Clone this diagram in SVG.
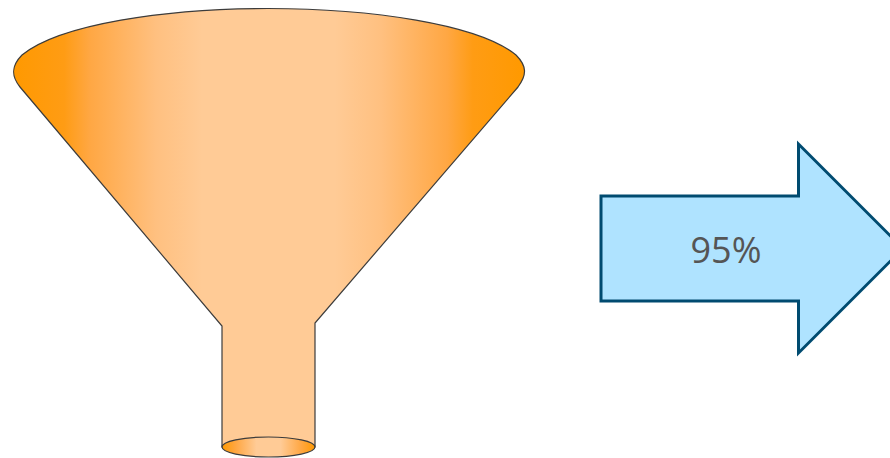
<svg xmlns="http://www.w3.org/2000/svg" width="890" height="458" viewBox="0 0 890 458">
  <defs>
    <linearGradient id="funnelFill" gradientUnits="userSpaceOnUse" x1="13" y1="0" x2="524" y2="0">
      <stop offset="0" stop-color="#ff9900"/>
      <stop offset="0.1" stop-color="#ff9c14"/>
      <stop offset="0.15" stop-color="#ffa743"/>
      <stop offset="0.28" stop-color="#ffc080"/>
      <stop offset="0.37" stop-color="#ffcb96"/>
      <stop offset="0.63" stop-color="#ffcb96"/>
      <stop offset="0.72" stop-color="#ffc080"/>
      <stop offset="0.85" stop-color="#ffa743"/>
      <stop offset="0.9" stop-color="#ff9c14"/>
      <stop offset="1" stop-color="#ff9900"/>
    </linearGradient>
    <linearGradient id="mouthFill" gradientUnits="objectBoundingBox" x1="0" y1="0" x2="1" y2="0">
      <stop offset="0" stop-color="#ff9900"/>
      <stop offset="0.15" stop-color="#ffa743"/>
      <stop offset="0.37" stop-color="#ffcb96"/>
      <stop offset="0.63" stop-color="#ffcb96"/>
      <stop offset="0.85" stop-color="#ffa743"/>
      <stop offset="1" stop-color="#ff9900"/>
    </linearGradient>
    <style>
      .outline { stroke: #3c3c3c; stroke-width: 1.2; }
      .arrow { fill: #afe3ff; stroke: #004b70; stroke-width: 3; }
      .label { font-family: "Open Sans", "Noto Sans", sans-serif; font-size: 36px; fill: #555555; text-anchor: middle; }
    </style>
  </defs>
  <g id="funnel">
    <path class="outline" fill="url(#funnelFill)" d="M222,326 L222,447 L315,447 L315,323 L518,87 C527,75 527,66 516,55 C478,24 370,8.500 268,8.500 C166,8.500 60,24 22,55 C11,66 11,76 20,87 Z"/>
    <ellipse class="outline" fill="url(#mouthFill)" cx="268.500" cy="447" rx="46.500" ry="10"/>
  </g>
  <g id="arrow-95">
    <path class="arrow" d="M601,196 H798.500 V144 L903,248.500 L798.500,353 V301 H601 Z"/>
    <text class="label" x="726" y="263">95%</text>
  </g>
</svg>
